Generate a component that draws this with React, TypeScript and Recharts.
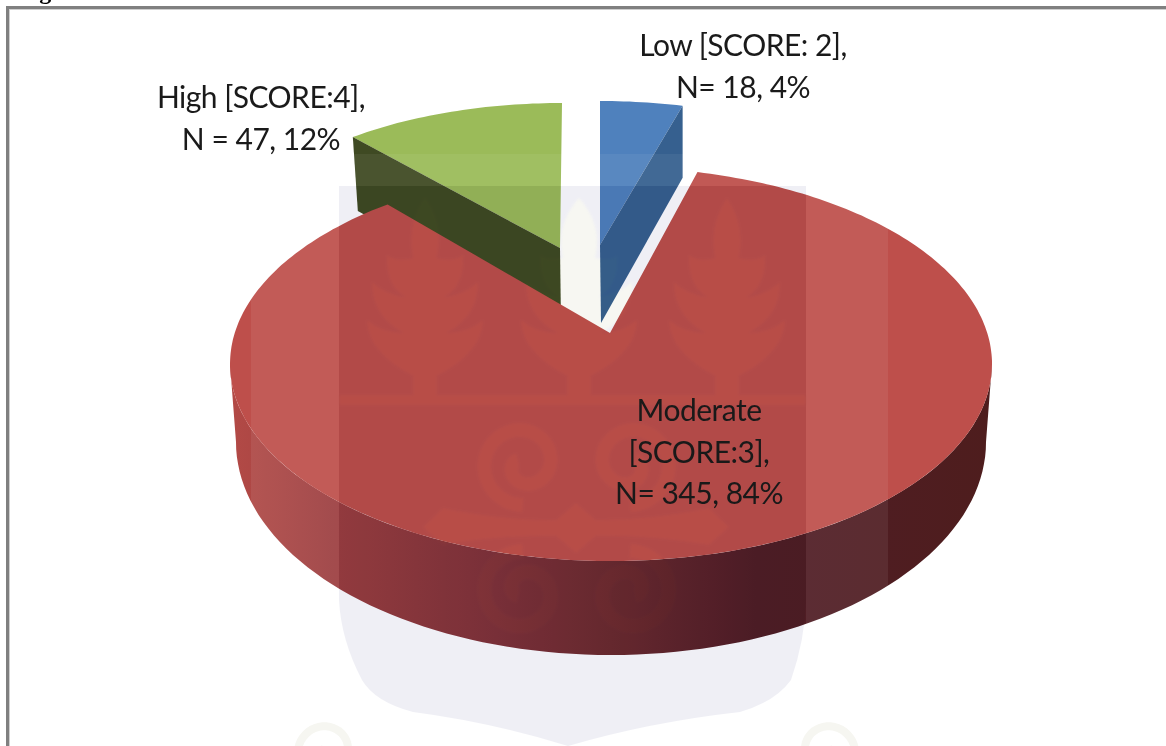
import React from "react";
import { PieChart, Pie } from "recharts";

// ---- data (draw order: back slices first) ----
const categories = ["High", "Low", "Moderate"];
const counts = [47, 18, 345];
const labelLines = [
  ["High [SCORE:4],", "N = 47, 12%"],
  ["Low [SCORE: 2],", "N= 18, 4%"],
  ["Moderate", "[SCORE:3],", "N= 345, 84%"],
];
const chartData = categories.map((name, i) => ({ name, value: counts[i], lines: labelLines[i] }));
const total = counts.reduce((a, b) => a + b, 0);
const START = 90 + (360 * counts[0]) / total;

// ---- look of each slice (offsets relative to the pie centre) ----
const LOOK: Record<string, any> = {
  High: { ax: -50, ay: -85, ex: 2, ey: 16, a: 340, b: 161, kR: 0.9, kL: 0.92, depth: 74, top: "#9BBB59", cut: "#3F4A23", cutSide: "start" },
  Low: { ax: -10, ay: -88, ex: 0, ey: 17, a: 340, b: 161, kR: 0.89, kL: 0.9, depth: 76, top: "#4F81BD", cut: "#36608F", cutSide: "end" },
  Moderate: { ax: 0, ay: 0, ex: 1, ey: 31, a: 381, b: 197, kR: 0.83, kL: 0.87, depth: 0, top: "#BE4F4B" },
};
const LABEL_POS: Record<string, [number, number]> = {
  High: [261, 108],
  Low: [743, 56],
  Moderate: [699, 421],
};
const FONT = "Lato, 'Open Sans', sans-serif";

const mapAngle = (deg: number, L: any) => {
  let d = deg - 90;
  while (d <= -180) d += 360;
  while (d > 180) d -= 360;
  return 90 + d * (d < 0 ? L.kR : L.kL);
};
const rad = (d: number) => (d * Math.PI) / 180;

function SliceShape(props: any) {
  const { cx, cy, startAngle, endAngle, name, payload } = props;
  const key = name ?? payload?.name;
  const L = LOOK[key];
  const apexX = cx + L.ax;
  const apexY = cy + L.ay;
  const ex = apexX + L.ex;
  const ey = apexY + L.ey;
  const t0 = mapAngle(startAngle, L);
  let t1 = mapAngle(endAngle, L);
  while (t1 >= t0) t1 -= 360;
  const pts: [number, number][] = [];
  for (let t = t0; t > t1; t -= 1) pts.push([ex + L.a * Math.cos(rad(t)), ey - L.b * Math.sin(rad(t))]);
  pts.push([ex + L.a * Math.cos(rad(t1)), ey - L.b * Math.sin(rad(t1))]);
  const face = `M${apexX},${apexY} ` + pts.map((p) => `L${p[0].toFixed(1)},${p[1].toFixed(1)}`).join(" ") + " Z";

  if (key === "Moderate") {
    // rim: lower half of the top ellipse down to the lower ellipse
    const upper: string[] = [];
    for (let t = 180; t <= 360; t += 2) upper.push(`${(ex + L.a * Math.cos(rad(t))).toFixed(1)},${(ey - L.b * Math.sin(rad(t))).toFixed(1)}`);
    const lower: string[] = [];
    const bx = ex;
    const by = ey + 78;
    for (let t = 360; t >= 180; t -= 2) lower.push(`${(bx + 375 * Math.cos(rad(t))).toFixed(1)},${(by - 213 * Math.sin(rad(t))).toFixed(1)}`);
    return (
      <g>
        <defs>
          <linearGradient id="rim" x1="0" x2="1" y1="0" y2="0">
            <stop offset="0" stopColor="#B34A46" />
            <stop offset="0.14" stopColor="#9C3E40" />
            <stop offset="0.35" stopColor="#80323A" />
            <stop offset="0.5" stopColor="#6C2A30" />
            <stop offset="0.69" stopColor="#501D26" />
            <stop offset="1" stopColor="#4E1D1D" />
          </linearGradient>
        </defs>
        <polygon points={upper.concat(lower).join(" ")} fill="url(#rim)" />
        <path d={face} fill={L.top} />
      </g>
    );
  }
  const edge = L.cutSide === "start" ? pts[0] : pts[pts.length - 1];
  const cut = `M${apexX},${apexY} L${edge[0]},${edge[1]} L${edge[0] + (L.cutSide === "start" ? 5 : 0)},${edge[1] + L.depth - (L.cutSide === "end" ? 4 : 0)} L${apexX + 1},${apexY + L.depth + 2} Z`;
  return (
    <g>
      <path d={face} fill={L.top} />
      <path d={cut} fill={L.cut} />
    </g>
  );
}

function SliceLabel(props: any) {
  const key = props.name ?? props.payload?.name;
  const [x, y] = LABEL_POS[key];
  const lines: string[] = props.payload?.lines ?? props.lines ?? [];
  return (
    <text x={x} y={y} textAnchor="middle" fontFamily={FONT} fontSize={30} fill="#1a1a1a" style={{ letterSpacing: "-0.5px" }}>
      {lines.map((l, i) => (
        <tspan key={i} x={x} y={y + i * 41.5}>
          {l}
        </tspan>
      ))}
    </text>
  );
}

// ---- faint crest watermark of the page behind and over the chart ----
const plant = (c: number, spear: number) => {
  // right-hand outline: [ctrlX, ctrlY, endX, endY]; x measured from the stem
  const segs = [
    [spear + 4, 225, spear * 0.8, 258],
    [spear + 14, 262, 38, 255],
    [40, 285, 20, 297],
    [38, 295, 53, 282],
    [54, 315, 22, 333],
    [44, 332, 58, 320],
    [58, 352, 12, 376],
    [12, 386, 12, 395],
  ];
  const top = 198;
  let d = `M${c},${top}`;
  segs.forEach((s) => (d += ` Q${c + s[0]},${s[1]} ${c + s[2]},${s[3]}`));
  d += ` L${c - 12},395`;
  for (let i = segs.length - 1; i >= 0; i--) {
    const prevX = i > 0 ? segs[i - 1][2] : 0;
    const prevY = i > 0 ? segs[i - 1][3] : top;
    d += ` Q${c - segs[i][0]},${segs[i][1]} ${c - prevX},${prevY}`;
  }
  return d + " Z";
};
const spiral = (cx: number, cy: number, r: number, dir: number, vert: number) => {
  const p: string[] = [];
  for (let i = 0; i <= 60; i++) {
    const th = (i / 60) * Math.PI * 2.7 + Math.PI / 2;
    const rr = r * (1 - Math.pow(i / 60, 1.6) * 0.85);
    p.push(`${(cx + dir * rr * Math.cos(th)).toFixed(1)},${(cy + vert * rr * Math.sin(th)).toFixed(1)}`);
  }
  return "M" + p.join(" L");
};
const SHIELD =
  "M339,186 L806,186 L806,600 Q805,640 791,680 Q775,702 740,712 Q650,722 568,746 Q490,722 413,712 Q375,702 362,680 Q341,640 339,600 Z";
const BAND =
  "M423,527 L443,508 Q500,520 556,520 L576,503 L596,520 Q652,520 709,508 L729,527 L709,545 Q652,535 596,536 L576,553 L556,536 Q500,535 443,545 Z";

function Ornaments({ fill }: { fill: string }) {
  return (
    <g filter="url(#soft)">
      <path d={plant(425, 15)} fill={fill} />
      <path d={plant(579, 20)} fill={fill} />
      <path d={plant(727, 15)} fill={fill} />
      <rect x={339} y={395} width={467} height={10} fill={fill} />
      {[
        [523, 464, 1, 1],
        [630, 464, -1, 1],
        [523, 592, 1, -1],
        [630, 592, -1, -1],
      ].map(([x, y, d, v], i) => (
        <path key={i} d={spiral(x, y, 41, d, v)} fill="none" stroke={fill} strokeWidth={14} />
      ))}
      <path d={BAND} fill={fill} />
    </g>
  );
}

function Watermark() {
  const multiply = { mixBlendMode: "multiply" as const };
  return (
    <svg width={1166} height={746} style={{ position: "absolute", left: 0, top: 0, pointerEvents: "none" }}>
      <defs>
        <filter id="soft" filterUnits="userSpaceOnUse" x={0} y={0} width={1166} height={746}>
          <feGaussianBlur stdDeviation={1.2} />
        </filter>
        <mask id="crestHoles" maskUnits="userSpaceOnUse" x={0} y={0} width={1166} height={746}>
          <path d={SHIELD} fill="#fff" />
          <Ornaments fill="#000" />
        </mask>
      </defs>
      <rect x={0} y={0} width={1166} height={746} fill="#EFEFF5" mask="url(#crestHoles)" style={multiply} />
      <g style={multiply}>
        <Ornaments fill="#F7F7F2" />
      </g>
      <rect x={251} y={186} width={88} height={450} fill="#fff" opacity={0.07} />
      <rect x={806} y={186} width={82} height={450} fill="#fff" opacity={0.07} />
      <rect x={339} y={154} width={549} height={32} fill="#fff" opacity={0.06} />
      <path d={spiral(327, 752, 31, 1, 1)} fill="none" stroke="#F6F6F1" strokeWidth={8} />
      <path d={spiral(826, 752, 31, -1, 1)} fill="none" stroke="#F6F6F1" strokeWidth={8} />
      {/* page frame and the clipped caption above it */}
      <rect x={6} y={6} width={1160} height={3} fill="#808080" />
      <rect x={6} y={6} width={3} height={740} fill="#808080" />
      <rect x={9} y={9} width={1157} height={1} fill="#CFCFCF" />
      <rect x={9} y={9} width={1} height={737} fill="#CFCFCF" />
      <text x={18} y={-1} fontFamily="'Liberation Serif', serif" fontWeight="bold" fontSize={24} fill="#000">
        Fig
      </text>
    </svg>
  );
}

export default function App() {
  return (
    <div style={{ position: "absolute", left: 0, top: 0, width: 1166, height: 746, background: "#fff", overflow: "hidden" }}>
      <PieChart width={1166} height={746} margin={{ top: 0, right: 0, bottom: 0, left: 0 }}>
        <Pie
          data={chartData}
          dataKey="value"
          nameKey="name"
          cx={610}
          cy={333}
          innerRadius={0}
          outerRadius={380}
          startAngle={START}
          endAngle={START - 360}
          paddingAngle={0}
          stroke="none"
          isAnimationActive={false}
          shape={SliceShape}
          label={SliceLabel}
          labelLine={false}
        />
      </PieChart>
      <Watermark />
    </div>
  );
}
